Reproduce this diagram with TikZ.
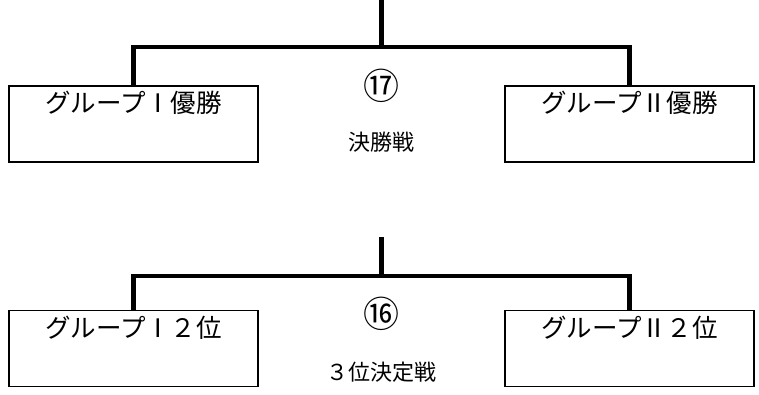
\documentclass[tikz,border=0pt]{standalone}
\usepackage{fontspec}
\setmainfont{Noto Sans CJK JP}
\begin{document}
\begin{tikzpicture}[x=1pt,y=-1pt,
  teambox/.style={draw=black,line width=1.6pt,minimum width=249pt,minimum height=76pt,inner sep=0pt},
  teamlbl/.style={font=\fontsize{25.5}{29}\selectfont,inner sep=0pt},
  matchno/.style={font=\fontsize{36}{40}\selectfont,inner sep=0pt},
  matchname/.style={font=\fontsize{22}{26}\selectfont,inner sep=0pt},
  bracket/.style={draw=black,line width=4.2pt,line join=miter}]
\useasboundingbox (0,0) rectangle (759,394);
% final
\node[teambox] (a1) at (133.5,124) {};
\node[teambox] (a2) at (629.5,124) {};
\node[teamlbl] (a1t) at ([yshift=-18pt]a1.north) {グループⅠ優勝};
\node[teamlbl] (a2t) at ([yshift=-18pt]a2.north) {グループⅡ優勝};
\coordinate (at) at (381.5,0);
\coordinate (aj) at (381.5,47);
\draw[bracket] (at) -- (aj);
\draw[bracket] (a1.north) |- (aj) -| (a2.north);
\node[matchno] (am) at (381.5,86) {⑰};
\node[matchname] (an) at (381.5,142) {決勝戦};
% third place
\node[teambox] (b1) at (133.5,348.5) {};
\node[teambox] (b2) at (629.5,348.5) {};
\node[teamlbl] (b1t) at ([yshift=-18pt]b1.north) {グループⅠ２位};
\node[teamlbl] (b2t) at ([yshift=-18pt]b2.north) {グループⅡ２位};
\coordinate (bt) at (381.5,237);
\coordinate (bj) at (381.5,276);
\draw[bracket] (bt) -- (bj);
\draw[bracket] (b1.north) |- (bj) -| (b2.north);
\node[matchno] (bm) at (381.5,314) {⑯};
\node[matchname] (bn) at (381.5,372) {３位決定戦};
\end{tikzpicture}
\end{document}
